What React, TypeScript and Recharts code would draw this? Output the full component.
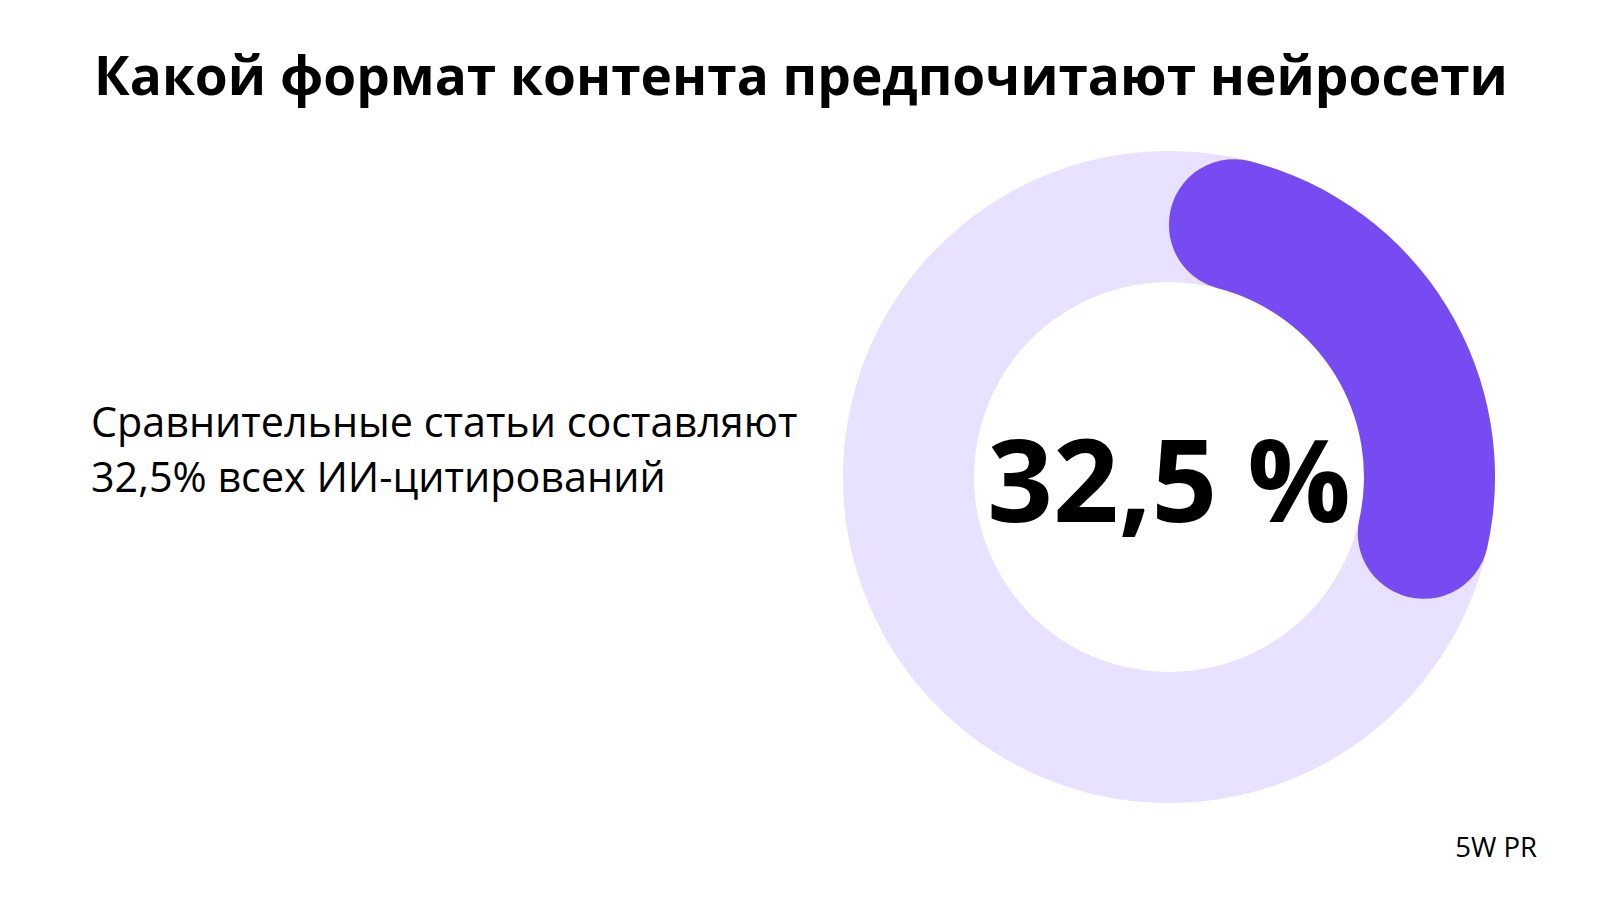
import { PieChart, Pie, Cell } from "recharts"

// доля сравнительных статей в ИИ-цитированиях, %
const shareLabels = ["Сравнительные статьи", "Другие форматы"]
const shareValues = [32.5, 67.5]
const trackValues = [100]

const title = "Какой формат контента предпочитают нейросети"
const captionLines = ["Сравнительные статьи составляют", "32,5% всех ИИ-цитирований"]
const centerLabel = "32,5 %"
const source = "5W PR"

const COLORS = ["#764BF2", "transparent"]

export default function App() {
    const data = shareLabels.map((name, i) => ({ name, value: shareValues[i] }))
    const track = trackValues.map((value) => ({ name: "track", value }))

    return (
        <div
            style={{
                position: "absolute",
                left: 0,
                top: 0,
                width: 1600,
                height: 900,
                background: "#fff",
                fontFamily: "'Open Sans', sans-serif",
            }}
        >
            <PieChart
                width={1600}
                height={900}
                margin={{ top: 0, right: 0, bottom: 0, left: 0 }}
                style={{ position: "absolute", left: 0, top: 0 }}
            >
                <Pie
                    data={track}
                    dataKey="value"
                    cx={1169}
                    cy={477}
                    innerRadius={195}
                    outerRadius={326}
                    startAngle={90}
                    endAngle={-270}
                    fill="#E8E1FF"
                    stroke="none"
                    isAnimationActive={false}
                />
                <Pie
                    data={data}
                    dataKey="value"
                    cx={1169}
                    cy={477}
                    innerRadius={195}
                    outerRadius={326}
                    startAngle={90}
                    endAngle={-270}
                    cornerRadius={65}
                    stroke="none"
                    isAnimationActive={false}
                >
                    {data.map((entry, index) => (
                        <Cell key={`cell-${index}`} fill={COLORS[index % COLORS.length]} />
                    ))}
                </Pie>
            </PieChart>
            <svg width={1600} height={900} style={{ position: "absolute", left: 0, top: 0 }}>
                <text x={801} y={95} textAnchor="middle" fontSize={53.2} fontWeight={700} fill="#000">
                    {title}
                </text>
                {captionLines.map((line, i) => (
                    <text key={i} x={91} y={437 + i * 55} fontSize={41.3} fill="#000">
                        {line}
                    </text>
                ))}
                <text x={1169} y={522} textAnchor="middle" fontSize={115} fontWeight={700} fill="#000">
                    {centerLabel}
                </text>
                <text x={1537} y={857} textAnchor="end" fontSize={27.5} fill="#000">
                    {source}
                </text>
            </svg>
        </div>
    )
}
